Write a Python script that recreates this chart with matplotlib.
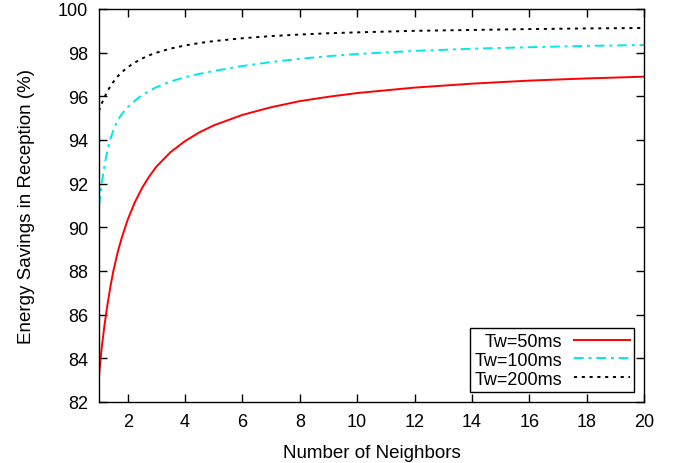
import numpy as np
import matplotlib
matplotlib.use('Agg')
import matplotlib.pyplot as plt

plt.rcParams['font.family'] = ['Liberation Sans', 'DejaVu Sans']

# Values
neighbors = [1, 1.05, 1.1, 1.2, 1.3, 1.4, 1.5, 1.65, 1.8, 2, 2.25, 2.5, 2.75, 3, 3.5, 4, 4.5,
             5, 6, 7, 8, 9, 10, 12, 14, 16, 18, 20]
tw50 = [83.2, 83.9, 84.55, 85.6, 86.5, 87.3, 88.0, 88.85, 89.55, 90.35, 91.15, 91.8, 92.33, 92.78,
        93.45, 93.95, 94.35, 94.67, 95.15, 95.5, 95.78, 95.98, 96.15, 96.4, 96.58, 96.72, 96.82, 96.9]
tw100 = [91.0, 91.55, 92.05, 92.9, 93.55, 94.05, 94.45, 94.9, 95.2, 95.5, 95.8, 96.05, 96.25, 96.42,
         96.68, 96.88, 97.03, 97.16, 97.39, 97.57, 97.72, 97.84, 97.94, 98.08, 98.18, 98.25, 98.31, 98.35]
tw200 = [95.33, 95.52, 95.69, 95.98, 96.25, 96.47, 96.66, 96.91, 97.11, 97.33, 97.55, 97.73, 97.88, 98.0,
         98.19, 98.33, 98.44, 98.53, 98.66, 98.76, 98.83, 98.89, 98.93, 99.0, 99.04, 99.08, 99.11, 99.13]
labels = ['Tw=50ms', 'Tw=100ms', 'Tw=200ms']

fig = plt.figure(figsize=(6.77, 4.64), dpi=100)
ax = fig.add_axes([99/677, 1 - 403/464, 545/677, 393/464])

ax.plot(neighbors, tw50, color='#ff0000', lw=1.4, label=labels[0])
ax.plot(neighbors, tw100, color='#00e8e8', lw=1.4, dashes=(5, 2.5, 1.5, 2.5), label=labels[1])
ax.plot(neighbors, tw200, color='black', lw=1.4, dashes=(1.6, 2.4), label=labels[2])

ax.set_xlim(1, 20)
ax.set_ylim(82, 100)
ax.set_xticks(np.arange(2, 21, 2))
ax.set_yticks(np.arange(82, 101, 2))
ax.tick_params(direction='in', length=6, width=1, top=True, right=True, labelsize=13)
ax.tick_params(axis='x', pad=8)
ax.tick_params(axis='y', pad=8)
for s in ax.spines.values():
    s.set_linewidth(1)

ax.set_xlabel('Number of Neighbors', fontsize=13.5)
ax.set_ylabel('Energy Savings in Reception (%)', fontsize=13.5)
ax.xaxis.set_label_coords(0.5, -0.107)
ax.yaxis.set_label_coords(-0.118, 0.5)

leg = ax.legend(loc='lower right', markerfirst=False, fancybox=False, framealpha=1,
                edgecolor='black', fontsize=13, handlelength=3.1, handletextpad=0.65,
                labelspacing=0.1, borderaxespad=0.55, borderpad=0.25)
leg.get_frame().set_linewidth(1)

fig.savefig('out.png', dpi=100)
